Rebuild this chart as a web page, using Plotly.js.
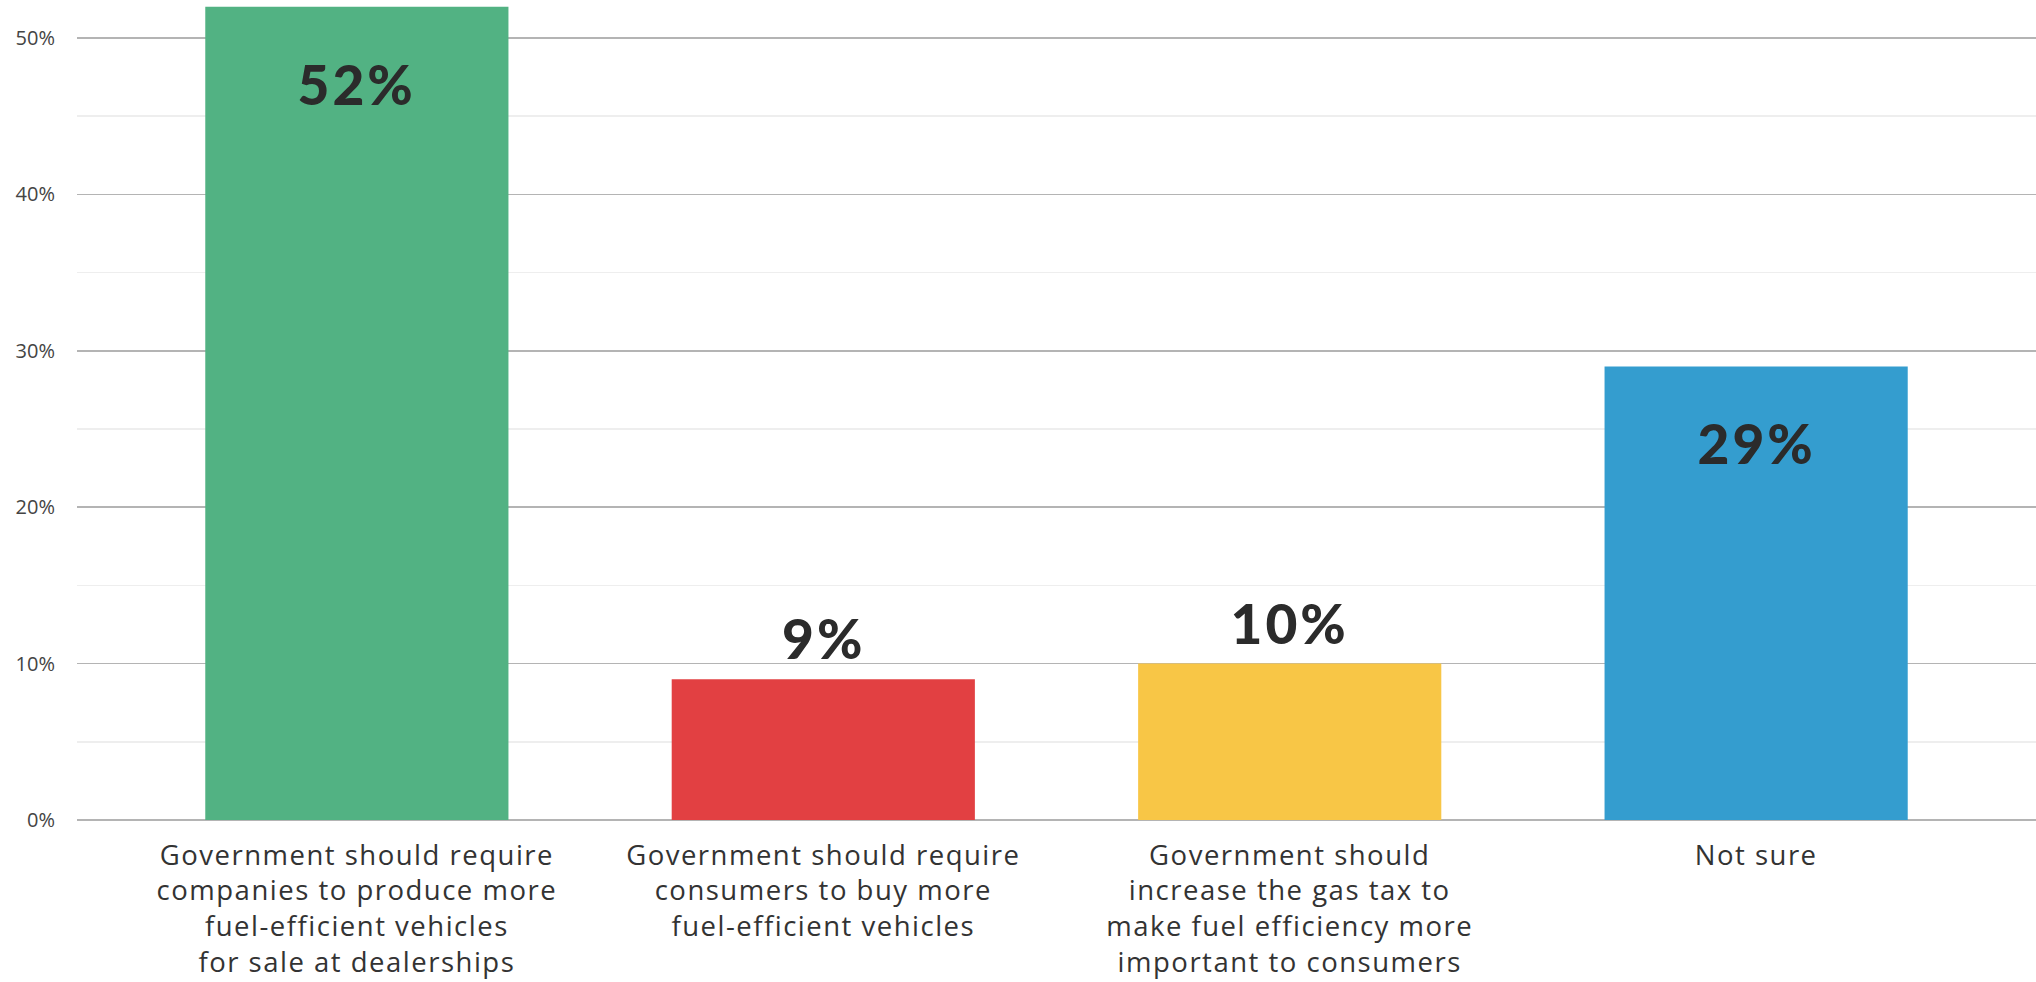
<!DOCTYPE html>
<html>
<head>
<meta charset="utf-8">
<script src="https://cdn.plot.ly/plotly-3.0.1.min.js"></script>
<style>
html,body{margin:0;padding:0;background:#fff;}
#chart{width:2036px;height:982px;}
#chart .xtick text{letter-spacing:1.5px;}
#chart .annotation-text{letter-spacing:3px;}
</style>
</head>
<body>
<div id="chart"></div>
<script>
const categories = [
  "Government should require<br>companies to produce more<br>fuel-efficient vehicles<br>for sale at dealerships",
  "Government should require<br>consumers to buy more<br>fuel-efficient vehicles",
  "Government should<br>increase the gas tax to<br>make fuel efficiency more<br>important to consumers",
  "Not sure"
];
const values = [52, 9, 10, 29];
const valueLabels = ["52%", "9%", "10%", "29%"];
const barColors = ["#52b283", "#e24042", "#f8c646", "#349dcf"];
const yTickVals = [0, 10, 20, 30, 40, 50];
const yTickText = ["0%", "10%", "20%", "30%", "40%", "50%"];

const trace = {
  type: "bar",
  x: categories,
  y: values,
  marker: {color: barColors},
  hoverinfo: "none"
};

const annotations = values.map((v, i) => {
  const inside = v > 20;
  return {
    x: categories[i], y: v, xref: "x", yref: "y",
    text: valueLabels[i],
    showarrow: false,
    yanchor: inside ? "top" : "bottom",
    yshift: inside ? -42 : 6,
    font: {family: "Lato, 'Open Sans', sans-serif", size: 55, color: "#2b2b2b", weight: 900}
  };
});

const layout = {
  width: 2036, height: 982,
  margin: {l: 77, r: 0, t: 0, b: 162, pad: 0},
  paper_bgcolor: "#ffffff", plot_bgcolor: "#ffffff",
  bargap: 0.35,
  showlegend: false,
  font: {family: "'Open Sans', Lato, sans-serif", color: "#333"},
  xaxis: {
    type: "category",
    range: [-0.6, 3.6],
    showgrid: false, zeroline: false, showline: false,
    ticks: "",
    tickfont: {family: "'Open Sans', sans-serif", size: 27.5, color: "#333333"},
    ticklabelstandoff: 16,
    fixedrange: true
  },
  yaxis: {
    range: [0, 52.43],
    tickvals: yTickVals, ticktext: yTickText,
    tickfont: {family: "'Open Sans', sans-serif", size: 20, color: "#444444"},
    ticklabelstandoff: 21,
    showgrid: true, gridcolor: "#b4b4b4", gridwidth: 1.5,
    zeroline: true, zerolinecolor: "#b4b4b4", zerolinewidth: 1.5,
    showline: false, ticks: "",
    minor: {dtick: 5, tick0: 0, showgrid: true, gridcolor: "#eeeeee", gridwidth: 1.5},
    fixedrange: true
  },
  annotations: annotations
};

Plotly.newPlot("chart", [trace], layout, {displayModeBar: false, staticPlot: true});
</script>
</body>
</html>
